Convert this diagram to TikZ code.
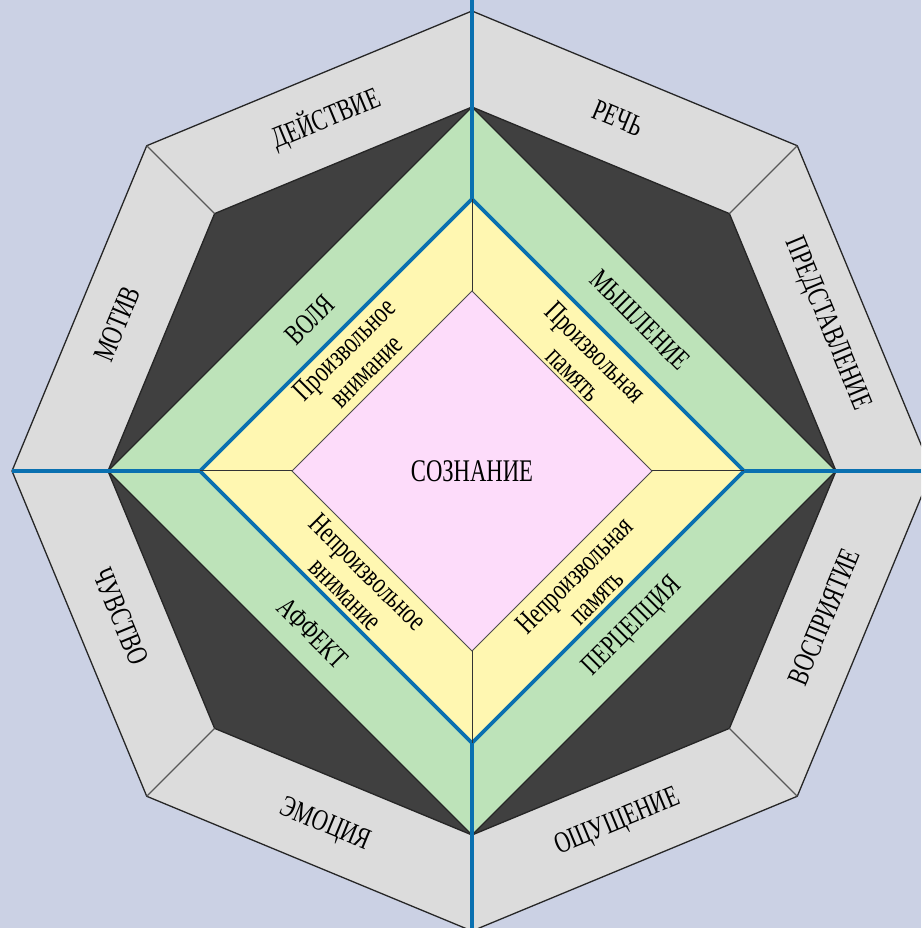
\documentclass[tikz,border=0pt]{standalone}
\usepackage{fontspec}
\newfontfamily\lblfont[FakeStretch=0.72]{Liberation Serif}
\usepackage{tikz}
\definecolor{bgblue}{HTML}{CBD1E4}
\definecolor{panelgray}{HTML}{DCDCDC}
\definecolor{darkfill}{HTML}{404040}
\definecolor{greenband}{HTML}{BDE3B9}
\definecolor{yellowband}{HTML}{FFF7B1}
\definecolor{pinkcore}{HTML}{FDDCFA}
\definecolor{axisblue}{HTML}{0A70B0}
\tikzstyle{edge} = [draw=black!85, line width=1.3pt, line join=round]
\tikzstyle{spoke} = [draw=black!65, line width=1.2pt]
\tikzstyle{axis} = [draw=axisblue, line width=3.6pt]
\tikzstyle{outerlbl} = [inner sep=0pt, font=\lblfont\fontsize{30}{32}\selectfont]
\tikzstyle{midlbl} = [inner sep=0pt, font=\lblfont\fontsize{29}{31}\selectfont]
\tikzstyle{innerlbl} = [inner sep=0pt, align=center, font=\lblfont\fontsize{30}{31}\selectfont]
\tikzstyle{corelbl} = [inner sep=0pt, font=\lblfont\fontsize{31.5}{33}\selectfont]

\begin{document}
\begin{tikzpicture}[x=1pt, y=1pt]
	\useasboundingbox[fill=bgblue] (-472,-457) rectangle (449,471);
	\clip (-472,-457) rectangle (449,471);
	\foreach \a in {0,45,...,315} {
		\coordinate (out\a) at (\a:460);
		\coordinate (in\a) at (\a:364);
	}
	\foreach \a in {0,90,180,270} {
		\coordinate (blue\a) at (\a:272);
		\coordinate (core\a) at (\a:180);
	}
	% gray ring and dark octagon
	\filldraw[edge, fill=panelgray] (out0) -- (out45) -- (out90) -- (out135)
		-- (out180) -- (out225) -- (out270) -- (out315) -- cycle;
	\filldraw[edge, fill=darkfill] (in0) -- (in45) -- (in90) -- (in135)
		-- (in180) -- (in225) -- (in270) -- (in315) -- cycle;
	\foreach \a in {45,135,225,315}
		\draw[spoke] (out\a) -- (in\a);
	% squares
	\filldraw[edge, fill=greenband] (in0) -- (in90) -- (in180) -- (in270) -- cycle;
	\filldraw[axis, fill=yellowband, line join=miter] (blue0) -- (blue90) -- (blue180) -- (blue270) -- cycle;
	\filldraw[draw=black!70, line width=1pt, fill=pinkcore] (core0) -- (core90) -- (core180) -- (core270) -- cycle;
	\foreach \a in {0,90,180,270}
		\draw[draw=black!80, line width=1pt] (blue\a) -- (core\a);
	% axes
	\coordinate (topend) at (0,471);
	\coordinate (botend) at (0,-457);
	\coordinate (rightend) at (449,0);
	\draw[axis] (topend) -- (blue90);
	\draw[axis] (botend) -- (blue270);
	\draw[axis] (rightend) -- (blue0);
	\draw[axis] (out180) -- (blue180);
	% labels
	\node[outerlbl, rotate=-22.5] (rech) at (67.5:382) {РЕЧЬ};
	\node[outerlbl, rotate=22.5] (deistvie) at (112.5:382) {ДЕЙСТВИЕ};
	\node[outerlbl, rotate=-67.5] (predst) at (22.5:384) {ПРЕДСТАВЛЕНИЕ};
	\node[outerlbl, rotate=67.5] (motiv) at (157.5:384) {МОТИВ};
	\node[outerlbl, rotate=-67.5] (chuvstvo) at (202.5:380) {ЧУВСТВО};
	\node[outerlbl, rotate=-22.5] (emociya) at (247.5:384) {ЭМОЦИЯ};
	\node[outerlbl, rotate=22.5] (oshch) at (292.5:381) {ОЩУЩЕНИЕ};
	\node[outerlbl, rotate=67.5] (vospr) at (337.5:381) {ВОСПРИЯТИЕ};
	\node[midlbl, rotate=45] (volya) at (-162,151) {ВОЛЯ};
	\node[midlbl, rotate=-45] (myshl) at (168,151) {МЫШЛЕНИЕ};
	\node[midlbl, rotate=-45] (affekt) at (-159,-162) {АФФЕКТ};
	\node[midlbl, rotate=45] (perc) at (161,-156) {ПЕРЦЕПЦИЯ};
	\node[innerlbl, rotate=45] (prvn) at (-117,111) {Произвольное\\внимание};
	\node[innerlbl, rotate=-45] (prpam) at (113,108) {Произвольная\\память};
	\node[innerlbl, rotate=-45] (neprvn) at (-115,-112) {Непроизвольное\\внимание};
	\node[innerlbl, rotate=45] (neprpam) at (113,-115) {Непроизвольная\\память};
	\node[corelbl] (soznanie) at (0,0) {СОЗНАНИЕ};
\end{tikzpicture}
\end{document}
